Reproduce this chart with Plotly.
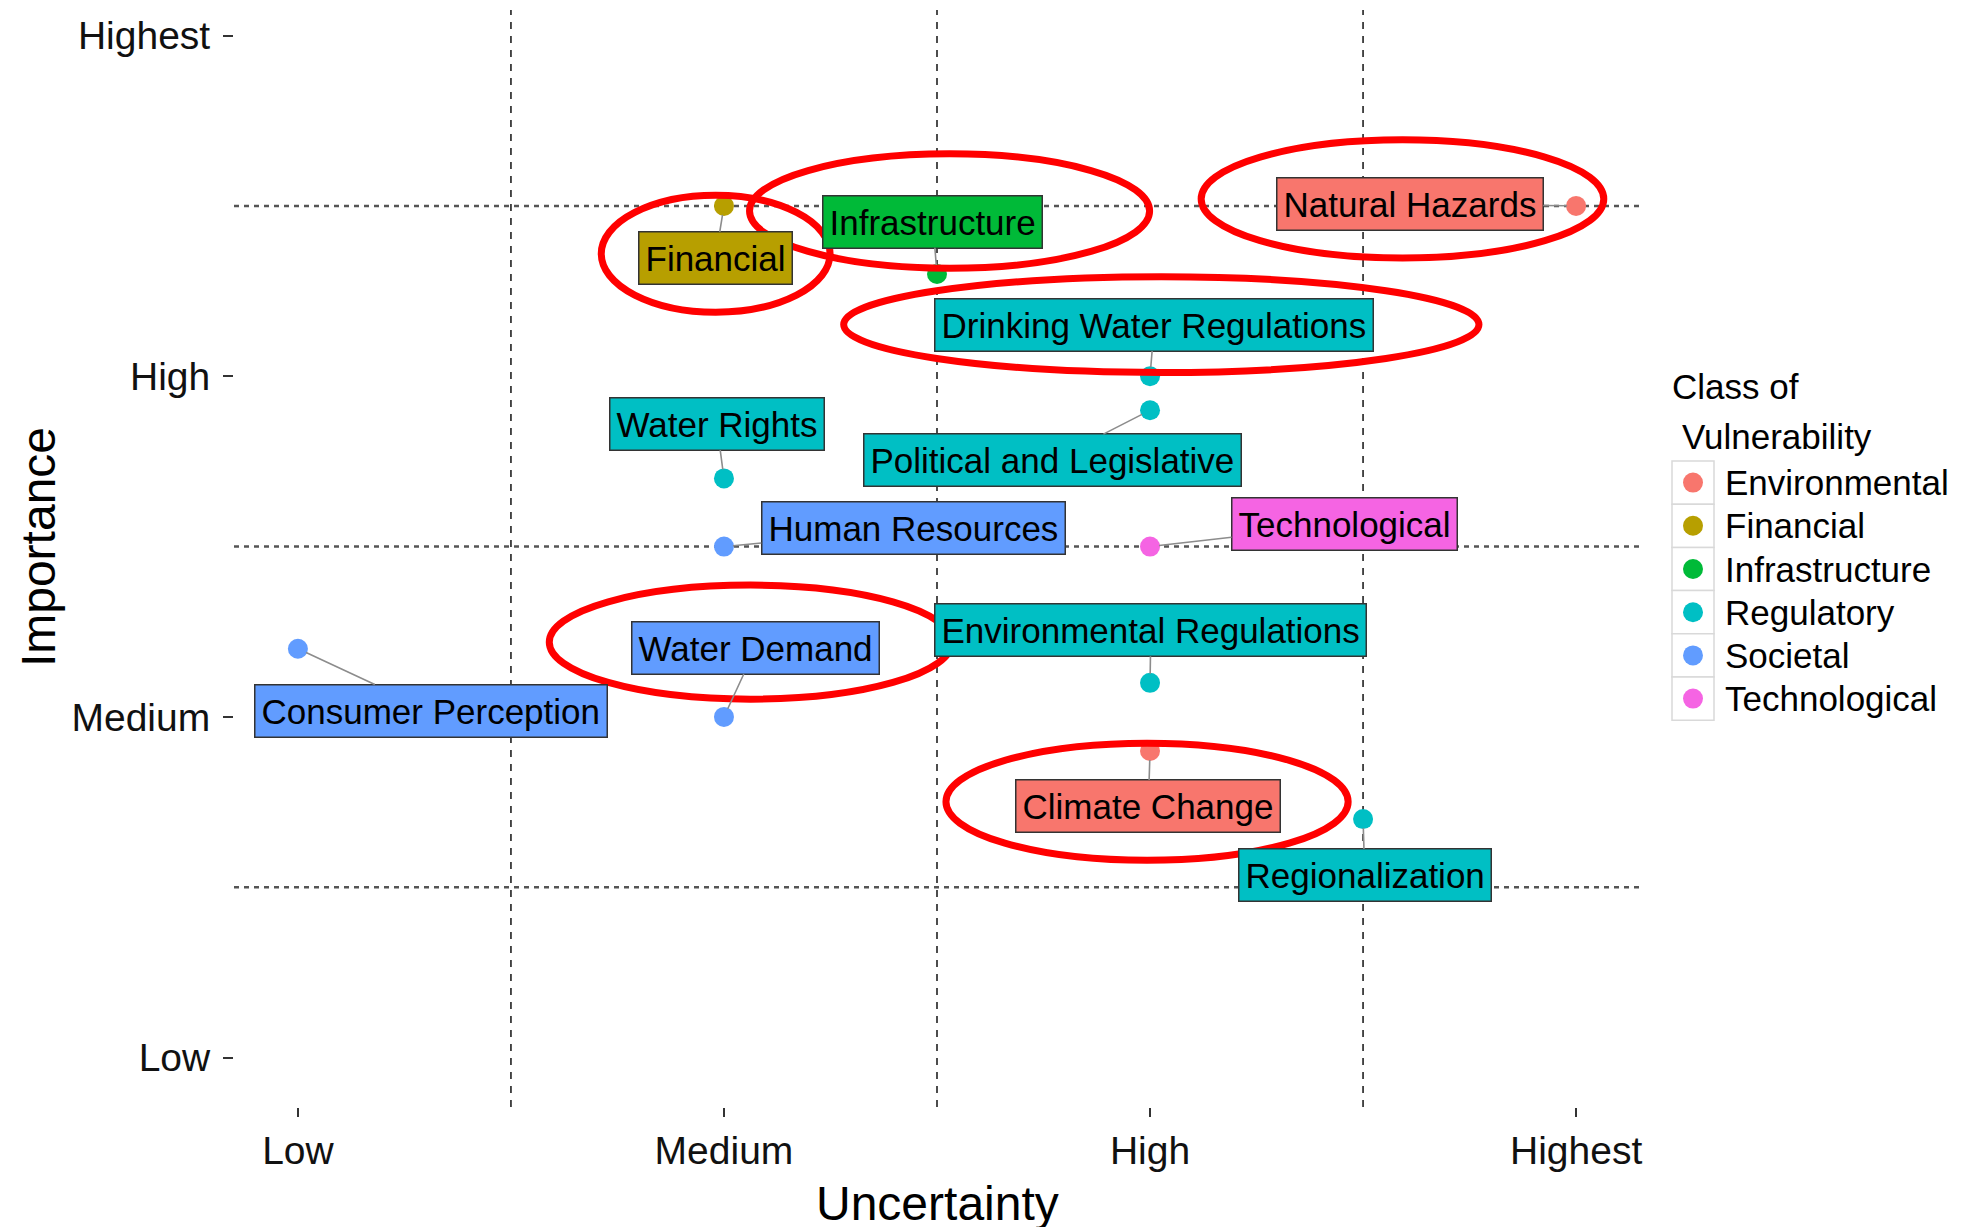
import plotly.graph_objects as go

# ---------------- data ----------------
risks = ["Natural Hazards", "Financial", "Infrastructure", "Drinking Water Regulations",
         "Political and Legislative", "Water Rights", "Human Resources", "Technological",
         "Consumer Perception", "Water Demand", "Environmental Regulations",
         "Climate Change", "Regionalization"]
risk_class = ["Environmental", "Financial", "Infrastructure", "Regulatory",
              "Regulatory", "Regulatory", "Societal", "Technological",
              "Societal", "Societal", "Regulatory", "Environmental", "Regulatory"]
uncertainty = [4.0, 2.0, 2.5, 3.0, 3.0, 2.0, 2.0, 3.0, 1.0, 2.0, 3.0, 3.0, 3.5]
importance = [3.5, 3.5, 3.3, 3.0, 2.9, 2.7, 2.5, 2.5, 2.2, 2.0, 2.1, 1.9, 1.7]

class_names = ["Environmental", "Financial", "Infrastructure", "Regulatory", "Societal", "Technological"]
level_labels = ["Low", "Medium", "High", "Highest"]
level_values = [1, 2, 3, 4]
highlighted = ["Financial", "Infrastructure", "Natural Hazards", "Drinking Water Regulations",
               "Water Demand", "Climate Change"]
legend_title_lines = ["Class of", " Vulnerability"]

# ---------------- layout helpers (positions / styles) ----------------
class_colors = ["#F8766D", "#B79F00", "#00BA38", "#00BFC4", "#619CFF", "#F564E3"]
color_of = dict(zip(class_names, class_colors))

# repelled label centres (data coords), as placed in the original
label_x = [3.61, 1.98, 2.49, 3.01, 2.77, 1.983, 2.444, 3.456, 1.313, 2.075, 3.002, 2.996, 3.504]
label_y = [3.506, 3.347, 3.454, 3.151, 2.753, 2.86, 2.554, 2.565, 2.018, 2.203, 2.255, 1.738, 1.535]

# highlight ellipses bounding boxes (data coords)
ellipse_boxes = {
    "Financial": (1.712, 2.249, 3.188, 3.531),
    "Infrastructure": (2.060, 2.999, 3.317, 3.653),
    "Natural Hazards": (3.120, 4.065, 3.347, 3.694),
    "Drinking Water Regulations": (2.281, 3.772, 3.011, 3.292),
    "Water Demand": (1.590, 2.535, 2.052, 2.387),
    "Climate Change": (2.521, 3.465, 1.579, 1.923),
}

FONT = "Liberation Sans, Arial, sans-serif"
W, H = 1971, 1227
ML, MR, MT, MB = 226, 339, 2, 128
PW, PH = W - ML - MR, H - MT - MB


def px_x(px):
    return (px - ML) / PW


def px_y(py):
    return 1 - (py - MT) / PH


fig = go.Figure()

for cname in class_names:
    xs = [u for u, c in zip(uncertainty, risk_class) if c == cname]
    ys = [i for i, c in zip(importance, risk_class) if c == cname]
    fig.add_trace(go.Scatter(
        x=xs, y=ys, mode="markers", name=cname, showlegend=False,
        marker=dict(color=color_of[cname], size=20, line=dict(width=0)),
    ))

annotations = []
for name, cls, ux, iy, lx, ly in zip(risks, risk_class, uncertainty, importance, label_x, label_y):
    annotations.append(dict(
        x=ux, y=iy, xref="x", yref="y",
        ax=lx, ay=ly, axref="x", ayref="y",
        text=name, showarrow=True, arrowhead=0, arrowwidth=1.6,
        arrowcolor="#8c8c8c", standoff=9,
        font=dict(family=FONT, size=35, color="black"),
        bgcolor=color_of[cls], bordercolor="#333333", borderwidth=1.5, borderpad=6,
    ))

# axis titles
annotations.append(dict(text="Uncertainty", x=0.5, y=-0.088, xref="paper", yref="paper",
                        xanchor="center", yanchor="middle", showarrow=False,
                        font=dict(family=FONT, size=48, color="black")))
annotations.append(dict(text="Importance", x=-0.139, y=0.51, xref="paper", yref="paper",
                        xanchor="center", yanchor="middle", showarrow=False, textangle=-90,
                        font=dict(family=FONT, size=48, color="black")))

shapes = []
for v in [1.5, 2.5, 3.5]:
    shapes.append(dict(type="line", xref="x", yref="paper", x0=v, x1=v, y0=0, y1=1,
                       line=dict(color="#3a3a3a", width=1.8, dash="7px,7px"), layer="below"))
    shapes.append(dict(type="line", xref="paper", yref="y", x0=0, x1=1, y0=v, y1=v,
                       line=dict(color="#555555", width=2.5, dash="5px,5px"), layer="below"))

for name in highlighted:
    x0, x1, y0, y1 = ellipse_boxes[name]
    shapes.append(dict(type="circle", xref="x", yref="y", x0=x0, x1=x1, y0=y0, y1=y1,
                       line=dict(color="#FF0000", width=7), layer="above"))

# ---------------- hand-built legend (ggplot style, with key boxes) ----------------
LEG_X = 1664          # left edge of key boxes (px)
KEY_W = 42
ROW_H = 43.2
ROW0 = 453            # top of first key box (px)
annotations.append(dict(text=legend_title_lines[0], x=px_x(LEG_X - 2), y=px_y(379),
                        xref="paper", yref="paper", xanchor="left", yanchor="middle",
                        showarrow=False, font=dict(family=FONT, size=35, color="black")))
annotations.append(dict(text=legend_title_lines[1].strip(), x=px_x(LEG_X + 8), y=px_y(428),
                        xref="paper", yref="paper", xanchor="left", yanchor="middle",
                        showarrow=False, font=dict(family=FONT, size=35, color="black")))
for k, cname in enumerate(class_names):
    top = ROW0 + k * ROW_H
    cy = top + ROW_H / 2
    shapes.append(dict(type="rect", xref="paper", yref="paper",
                       x0=px_x(LEG_X), x1=px_x(LEG_X + KEY_W), y0=px_y(top), y1=px_y(top + ROW_H),
                       line=dict(color="#d9d9d9", width=1.5), fillcolor="white", layer="above"))
    cx = LEG_X + KEY_W / 2
    shapes.append(dict(type="circle", xref="paper", yref="paper",
                       x0=px_x(cx - 10), x1=px_x(cx + 10), y0=px_y(cy - 10), y1=px_y(cy + 10),
                       line=dict(width=0), fillcolor=color_of[cname], layer="above"))
    annotations.append(dict(text=cname, x=px_x(LEG_X + KEY_W + 9), y=px_y(cy),
                            xref="paper", yref="paper", xanchor="left", yanchor="middle",
                            showarrow=False, font=dict(family=FONT, size=35, color="black")))

fig.update_layout(
    width=W, height=H,
    margin=dict(l=ML, r=MR, t=MT, b=MB),
    paper_bgcolor="white", plot_bgcolor="white",
    font=dict(family=FONT, color="black"),
    xaxis=dict(range=[0.85, 4.15], tickvals=level_values, ticktext=level_labels,
               showgrid=False, zeroline=False, showline=False,
               ticks="outside", ticklen=9, tickwidth=1.5, tickcolor="#333333",
               tickfont=dict(size=39, color="#111111")),
    yaxis=dict(range=[0.855, 4.075], tickvals=level_values, ticktext=level_labels,
               showgrid=False, zeroline=False, showline=False,
               ticks="outside", ticklen=10, tickwidth=1.5, tickcolor="#333333",
               ticklabelstandoff=5,
               tickfont=dict(size=39, color="#111111")),
    annotations=annotations,
    shapes=shapes,
    showlegend=False,
)

fig.write_html("out.html")
